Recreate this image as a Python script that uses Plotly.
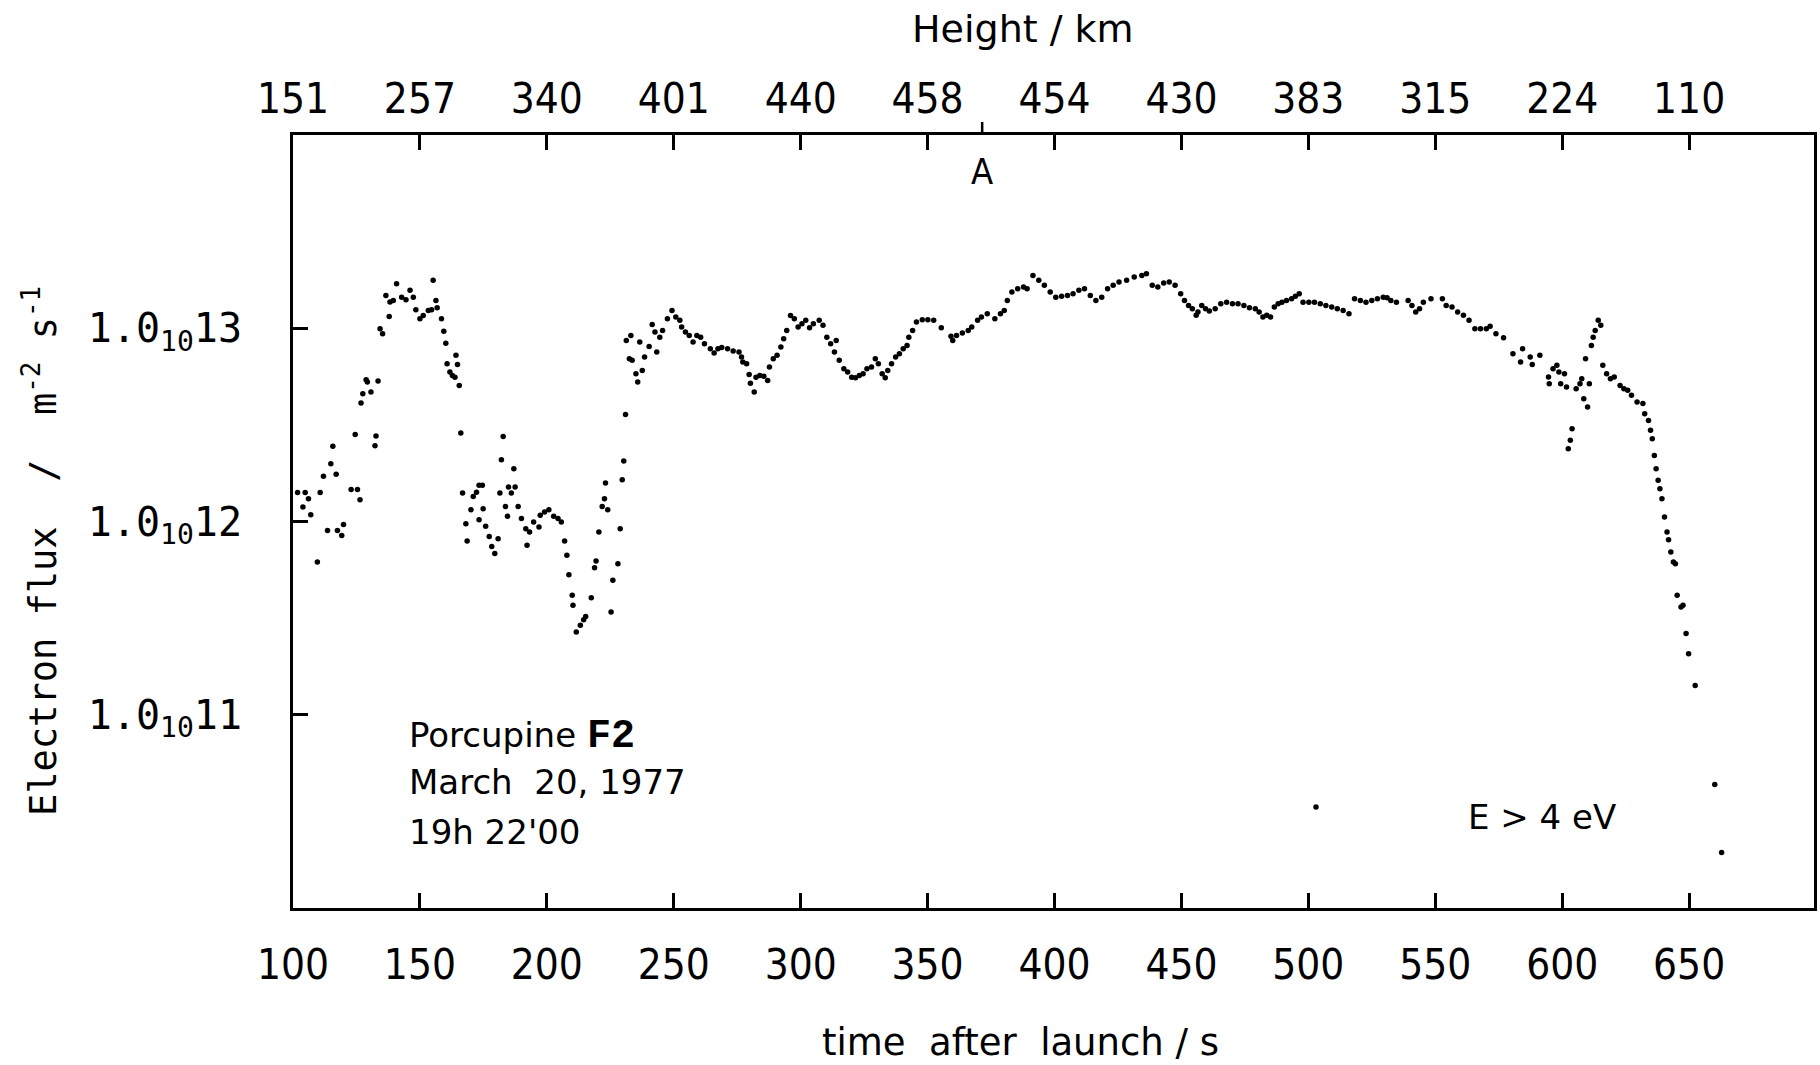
import plotly.graph_objects as go

# ---------------- data (time after launch [s], log10 electron flux [m^-2 s^-1]) ----------------
SEG_ASCENT = [
    (101.8, 12.15), (104.8, 12.15), (103.9, 12.075), (106.1, 12.118), (107.0, 12.035), (109.6, 11.79),
    (110.7, 12.15), (112.0, 12.234), (113.6, 11.954), (114.9, 12.299), (115.7, 12.389), (117.0, 12.244),
    (117.5, 11.954), (119.2, 11.928), (119.9, 11.985), (122.9, 12.165), (124.5, 12.45), (125.4, 12.165),
    (126.4, 12.113), (126.8, 12.613), (127.5, 12.661), (128.8, 12.734), (129.3, 12.722), (130.7, 12.67),
    (132.3, 12.392), (132.7, 12.442), (133.5, 12.727), (134.3, 12.998), (135.3, 12.972), (136.6, 13.17),
    (137.9, 13.061), (138.2, 13.136), (139.5, 13.144), (140.8, 13.23), (142.8, 13.161), (144.5, 13.148),
    (146.1, 13.196), (147.4, 13.161), (148.4, 13.096), (150.0, 13.049), (151.3, 13.066), (153.3, 13.092),
    (154.6, 13.096), (155.2, 13.248), (156.3, 13.144), (156.8, 13.106), (158.5, 13.049), (159.4, 12.985),
    (160.2, 12.923), (160.7, 12.816), (161.8, 12.773), (162.8, 12.756), (163.8, 12.747), (164.2, 12.86),
    (164.8, 12.813), (165.5, 12.704), (166.1, 12.458), (166.8, 12.147), (168.1, 11.989), (168.6, 11.899),
    (170.1, 12.061), (171.0, 12.13), (172.3, 12.152), (173.3, 12.187), (173.3, 12.009), (174.6, 12.187),
    (174.9, 12.066), (175.9, 11.975), (177.3, 11.923), (178.3, 11.871), (179.5, 11.834), (180.8, 11.911),
    (181.5, 12.147), (182.1, 12.32), (182.8, 12.44), (183.7, 12.078), (184.5, 12.027), (184.9, 12.178),
    (186.0, 12.147), (187.0, 12.273), (187.5, 12.178), (188.7, 12.078), (190.0, 12.015), (191.7, 11.963),
    (192.2, 11.877), (193.2, 11.946), (194.8, 11.997), (196.9, 11.971), (197.4, 12.032), (199.1, 12.049),
    (200.8, 12.061), (202.7, 12.027), (204.4, 12.015), (205.7, 11.997), (207.0, 11.899), (207.9, 11.825),
    (208.7, 11.725), (210.0, 11.618), (210.3, 11.566), (211.6, 11.428), (213.2, 11.463), (214.5, 11.492),
    (215.3, 11.509), (217.5, 11.606), (218.8, 11.761), (219.4, 11.796), (220.5, 11.946), (221.8, 12.078),
    (222.7, 12.118), (223.1, 12.199), (224.0, 12.061), (225.3, 11.532), (226.0, 11.696), (228.0, 11.782),
    (228.9, 11.963), (229.7, 12.216), (230.3, 12.313), (231.0, 12.554),
]

SEG_MIDDLE = [
    (231.3, 12.937), (233.1, 12.963), (232.5, 12.842), (233.6, 12.834), (235.1, 12.765), (235.8, 12.722),
    (236.6, 12.929), (237.6, 12.782), (238.5, 12.851), (240.3, 12.906), (241.5, 13.02), (243.3, 12.877),
    (242.6, 12.98), (244.5, 12.954), (245.6, 12.989), (247.5, 13.049), (249.3, 13.092), (250.8, 13.058),
    (252.4, 13.041), (253.1, 13.006), (254.6, 12.98), (256.1, 12.963), (257.6, 12.929), (259.1, 12.963),
    (260.6, 12.954), (262.1, 12.92), (264.4, 12.894), (265.9, 12.872), (267.4, 12.894), (268.9, 12.9),
    (271.2, 12.894), (273.4, 12.882), (275.7, 12.877), (276.7, 12.851), (277.2, 12.825), (278.7, 12.816),
    (279.7, 12.761), (280.2, 12.716), (281.7, 12.67), (282.4, 12.747), (283.9, 12.756), (285.5, 12.751),
    (287.0, 12.73), (287.7, 12.799), (289.2, 12.842), (290.7, 12.86), (292.2, 12.903), (293.3, 12.946),
    (294.5, 12.989), (296.0, 13.066), (297.5, 13.049), (299.0, 13.006), (300.5, 13.023), (302.0, 13.041),
    (303.5, 13.003), (305.0, 13.023), (307.3, 13.041), (308.8, 13.015), (310.3, 12.954), (311.8, 12.92),
    (314.0, 12.937), (313.3, 12.877), (315.2, 12.834), (317.0, 12.791), (318.5, 12.773), (320.1, 12.747),
    (321.6, 12.744), (323.1, 12.756), (324.6, 12.765), (326.1, 12.791), (327.9, 12.799), (329.4, 12.842),
    (330.6, 12.816), (332.1, 12.765), (333.3, 12.744), (334.3, 12.782), (335.8, 12.816), (337.4, 12.851),
    (338.9, 12.868), (340.4, 12.894), (341.9, 12.911), (342.6, 12.954), (344.1, 12.989), (345.6, 13.032),
    (347.9, 13.044), (350.1, 13.044), (352.4, 13.041), (355.4, 13.003), (359.2, 12.958), (359.9, 12.937),
    (361.4, 12.963), (363.7, 12.975), (366.0, 12.989), (367.4, 13.006), (369.7, 13.041), (371.2, 13.058),
    (373.5, 13.075), (376.5, 13.049), (378.7, 13.075), (380.2, 13.092), (381.4, 13.144), (383.2, 13.187),
    (385.5, 13.204), (387.8, 13.213), (389.2, 13.204), (391.5, 13.273), (393.8, 13.248), (396.0, 13.222),
    (398.3, 13.187), (400.5, 13.161), (402.8, 13.165), (405.1, 13.17), (407.3, 13.179), (409.6, 13.196),
    (411.8, 13.204), (414.1, 13.17), (416.3, 13.144), (418.6, 13.161), (420.9, 13.204), (423.1, 13.222),
    (425.4, 13.239), (428.4, 13.248), (431.4, 13.265), (434.4, 13.273), (436.2, 13.282),
]

SEG_DESCENT = [
    (438.5, 13.222), (440.7, 13.213), (443.0, 13.234), (445.2, 13.239), (447.5, 13.222), (449.7, 13.179),
    (451.2, 13.144), (452.8, 13.118), (454.3, 13.101), (455.8, 13.067), (456.5, 13.084), (458.0, 13.118),
    (459.5, 13.101), (461.0, 13.089), (463.3, 13.101), (465.5, 13.127), (467.8, 13.135), (470.1, 13.127),
    (472.3, 13.127), (474.6, 13.118), (476.8, 13.106), (479.1, 13.101), (480.6, 13.084), (482.1, 13.058),
    (483.6, 13.067), (485.1, 13.058), (486.6, 13.110), (488.1, 13.127), (489.6, 13.135), (491.4, 13.144),
    (493.4, 13.153), (494.9, 13.165), (496.4, 13.179), (497.9, 13.135), (500.2, 13.135), (502.4, 13.135),
    (504.7, 13.127), (506.9, 13.118), (509.2, 13.110), (511.4, 13.101), (513.7, 13.092), (516.0, 13.075),
    (518.2, 13.153), (520.5, 13.144), (522.7, 13.135), (525.0, 13.144), (527.2, 13.153), (529.5, 13.161),
    (531.0, 13.158), (532.5, 13.144), (534.7, 13.135), (539.3, 13.144), (540.8, 13.118), (542.3, 13.084),
    (543.8, 13.101), (545.3, 13.135), (548.3, 13.153), (552.8, 13.153), (554.3, 13.118), (556.6, 13.110),
    (558.8, 13.084), (561.1, 13.067), (563.3, 13.041), (565.6, 12.998), (567.8, 12.998), (570.1, 12.998),
    (571.6, 13.010), (573.9, 12.972), (576.9, 12.951), (580.6, 12.868), (583.6, 12.825), (584.4, 12.894),
    (587.4, 12.851), (588.2, 12.813), (591.2, 12.860), (594.6, 12.748), (594.9, 12.713), (596.4, 12.791),
    (597.9, 12.808), (598.7, 12.773), (599.4, 12.713), (600.9, 12.765), (601.7, 12.696), (602.4, 12.377),
    (603.2, 12.420), (603.9, 12.480), (605.5, 12.687), (607.0, 12.713), (607.7, 12.739), (608.5, 12.635),
    (610.0, 12.592), (610.7, 12.713), (609.2, 12.842), (611.5, 12.911), (612.2, 12.954), (613.0, 12.989),
    (614.2, 13.041), (615.2, 13.015), (616.0, 12.808), (617.5, 12.765), (619.0, 12.739), (620.5, 12.748),
    (622.8, 12.704), (624.3, 12.687), (625.8, 12.679), (627.3, 12.653), (629.5, 12.618), (631.8, 12.610),
    (632.5, 12.558), (634.0, 12.523), (634.8, 12.472), (635.5, 12.428), (636.3, 12.342), (637.0, 12.273),
    (637.8, 12.213), (638.5, 12.170), (639.3, 12.118), (640.3, 12.023), (641.3, 11.946), (641.9, 11.906),
    (642.8, 11.842), (643.8, 11.790), (644.6, 11.782), (645.3, 11.618), (646.8, 11.558), (647.6, 11.566),
    (648.8, 11.420), (649.8, 11.316), (652.4, 11.152), (660.1, 10.639), (662.8, 10.287),
]

SEG_ISOLATED = [(503.0, 10.523)]

X_TICKS = [100, 150, 200, 250, 300, 350, 400, 450, 500, 550, 600, 650]
HEIGHT_LABELS = ["151", "257", "340", "401", "440", "458", "454", "430", "383", "315", "224", "110"]
Y_TICK_EXP = [11, 12, 13]
APOGEE_T = 371.5
X_RANGE = [100, 699.2]
Y_RANGE_EXP = [10, 14]

# ---------------- build ----------------
points = SEG_ASCENT + SEG_MIDDLE + SEG_DESCENT + SEG_ISOLATED
times = [p[0] for p in points]
flux = [10 ** p[1] for p in points]

TICK_FONT = "Liberation Sans Narrow, DejaVu Sans Condensed, DejaVu Sans, sans-serif"
TEXT_FONT = "DejaVu Sans, sans-serif"
MONO_FONT = "DejaVu Sans Mono, monospace"

fig = go.Figure()
fig.add_trace(go.Scatter(
    x=times, y=flux, mode="markers",
    marker=dict(size=5.5, color="black", line=dict(width=0)),
    hoverinfo="skip", showlegend=False,
))
# invisible copy so the top (height) axis is drawn
fig.add_trace(go.Scatter(
    x=times, y=flux, mode="markers", xaxis="x2",
    marker=dict(size=1, color="rgba(0,0,0,0)"),
    hoverinfo="skip", showlegend=False,
))

axis_common = dict(
    showline=True, linecolor="black", linewidth=3,
    ticks="inside", ticklen=15, tickwidth=2.5, tickcolor="black",
    showgrid=False, zeroline=False,
)

fig.update_layout(
    width=1820, height=1065,
    margin=dict(l=293, r=3, t=135, b=157),
    paper_bgcolor="white", plot_bgcolor="white",
    xaxis=dict(
        range=X_RANGE, tickvals=X_TICKS, ticktext=[str(v) for v in X_TICKS],
        tickfont=dict(family=TICK_FONT, size=42, color="black"),
        ticklabelstandoff=18,
        **axis_common,
    ),
    xaxis2=dict(
        range=X_RANGE, overlaying="x", side="top", anchor="y",
        tickvals=X_TICKS, ticktext=HEIGHT_LABELS,
        tickfont=dict(family=TICK_FONT, size=42, color="black"),
        ticklabelstandoff=2,
        **axis_common,
    ),
    yaxis=dict(
        type="log", range=Y_RANGE_EXP,
        tickvals=[10 ** e for e in Y_TICK_EXP],
        ticktext=[f"1.0<sub>10</sub>{e}" for e in Y_TICK_EXP],
        tickfont=dict(family=MONO_FONT, size=40, color="black"),
        ticklabelstandoff=40,
        mirror=True,
        **axis_common,
    ),
)

# apogee marker "A" (outward tick on top axis)
fig.add_shape(type="line", xref="x", yref="paper", x0=APOGEE_T, x1=APOGEE_T,
              y0=1, y1=1 + 13 / 773, line=dict(color="black", width=2.5))

def ann(text, x, y, size, family=TEXT_FONT, xanchor="center", **kw):
    fig.add_annotation(text=text, x=x, y=y, xref="paper", yref="paper",
                       showarrow=False, xanchor=xanchor, yanchor="middle",
                       font=dict(family=family, size=size, color="black"), **kw)

ann("A", (APOGEE_T - X_RANGE[0]) / (X_RANGE[1] - X_RANGE[0]), 0.953, 36, family=TICK_FONT)
ann("Height / km", 0.4797, 1.1366, 38)
ann("time  after  launch / s", 0.4784, -0.1737, 37)
ann("Electron flux  /  m<sup>-2</sup> s<sup>-1</sup>", -0.1659, 0.4614, 37,
    family=MONO_FONT, textangle=-90)
ann("Porcupine <span style='font-family:Liberation Mono;font-size:40px'><b>F2</b></span>",
    0.0749, 0.2215, 34, xanchor="left")
ann("March  20, 1977", 0.0749, 0.1625, 34, xanchor="left")
ann("19h 22'00", 0.0749, 0.0985, 34, xanchor="left")
ann("E > 4 eV", 0.8209, 0.1173, 34)

fig.write_html("out.html")
